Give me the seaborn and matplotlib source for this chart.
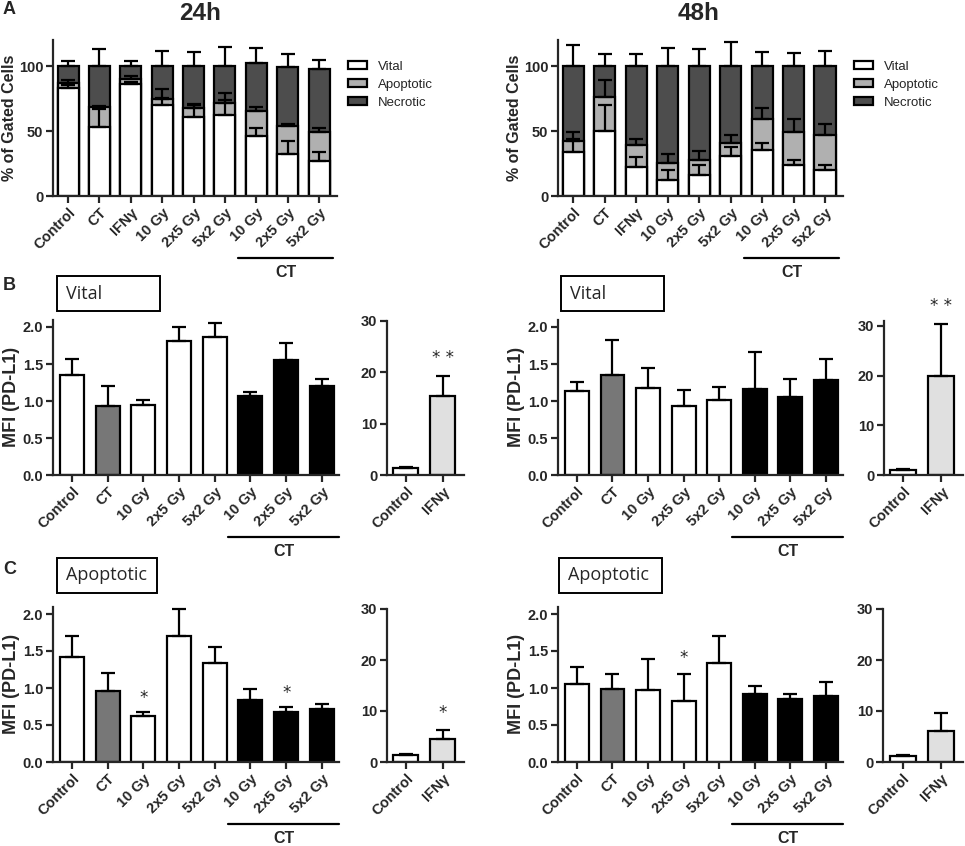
import numpy as np
import pandas as pd
import seaborn as sns
import matplotlib.pyplot as plt
from matplotlib.patches import Patch, Rectangle
import matplotlib.transforms as mtransforms

# ---- data ----
groups_a = ['Control', 'CT', 'IFNγ', '10 Gy', '2x5 Gy', '5x2 Gy', 'CT 10 Gy', 'CT 2x5 Gy', 'CT 5x2 Gy']
labels_a = ['Control', 'CT', 'IFNγ', '10 Gy', '2x5 Gy', '5x2 Gy', '10 Gy', '2x5 Gy', '5x2 Gy']

vital_24 = [83, 53, 86, 70, 61, 62.5, 46, 32.5, 27]
vital_24_err = [2, 14, 2, 12, 10, 17, 6, 10, 6.5]
apop_24 = [4, 15.5, 4, 4.5, 7, 9, 19, 21.5, 22]
apop_24_err = [2, 0.5, 2, 1, 2, 2, 3.5, 1.5, 3.5]
nec_24 = [13, 31.5, 10, 25.5, 32, 28.5, 37.5, 45, 49]
nec_24_err = [4, 13, 4, 11.5, 11, 15, 11, 10.5, 7]

vital_48 = [34, 50, 22, 12, 16, 30.5, 35, 24, 20]
vital_48_err = [10, 20, 8, 8, 8, 7, 6, 3.5, 4]
apop_48 = [8, 26, 17, 13, 12, 10, 24, 25, 27]
apop_48_err = [7, 13, 5, 7.5, 6.5, 6.5, 9, 10, 8]
nec_48 = [58, 24, 61, 75, 72, 59.5, 41, 51, 53]
nec_48_err = [16, 9.5, 9, 14, 13, 18.5, 11, 10, 11.5]

groups_b = ['Control', 'CT', '10 Gy', '2x5 Gy', '5x2 Gy', 'CT 10 Gy', 'CT 2x5 Gy', 'CT 5x2 Gy']
labels_b = ['Control', 'CT', '10 Gy', '2x5 Gy', '5x2 Gy', '10 Gy', '2x5 Gy', '5x2 Gy']
colors_b = ['white', '#777777', 'white', 'white', 'white', 'black', 'black', 'black']

mfi_vital_24 = [1.35, 0.93, 0.95, 1.81, 1.86, 1.07, 1.56, 1.20]
mfi_vital_24_err = [0.22, 0.27, 0.07, 0.19, 0.19, 0.05, 0.23, 0.10]
mfi_vital_48 = [1.13, 1.35, 1.17, 0.93, 1.02, 1.16, 1.06, 1.29]
mfi_vital_48_err = [0.12, 0.48, 0.27, 0.22, 0.17, 0.50, 0.24, 0.28]
mfi_apop_24 = [1.42, 0.96, 0.62, 1.70, 1.34, 0.84, 0.67, 0.71]
mfi_apop_24_err = [0.28, 0.24, 0.05, 0.37, 0.21, 0.15, 0.07, 0.08]
mfi_apop_48 = [1.05, 0.98, 0.97, 0.82, 1.34, 0.92, 0.85, 0.89]
mfi_apop_48_err = [0.24, 0.21, 0.42, 0.37, 0.36, 0.11, 0.07, 0.19]

groups_ifn = ['Control', 'IFNγ']
colors_ifn = ['white', '#e0e0e0']
ifn_vital_24 = [1.3, 15.4]
ifn_vital_24_err = [0.3, 3.9]
ifn_vital_48 = [1.0, 19.9]
ifn_vital_48_err = [0.2, 10.5]
ifn_apop_24 = [1.3, 4.6]
ifn_apop_24_err = [0.35, 1.6]
ifn_apop_48 = [1.1, 6.0]
ifn_apop_48_err = [0.2, 3.7]

# ---- style ----
sns.set_style('ticks')
plt.rcParams['font.family'] = ['Liberation Sans', 'DejaVu Sans']
plt.rcParams['font.weight'] = 'bold'
LW = 1.6

W, H = 965, 846
fig = plt.figure(figsize=(W / 100, H / 100), dpi=100)


def add_ax(x0, x1, ytop, ybot):
    return fig.add_axes([x0 / W, 1 - ybot / H, (x1 - x0) / W, (ybot - ytop) / H])


def style_ax(ax, labels, ylim, yticks, fmt, xlim):
    ax.set_xlim(*xlim)
    ax.set_ylim(*ylim)
    ax.set_yticks(yticks)
    ax.set_yticklabels([fmt.format(t) for t in yticks], fontsize=10.5, fontweight='bold')
    ax.set_xticks(range(len(labels)))
    ax.set_xticklabels(labels, rotation=45, ha='right', rotation_mode='anchor',
                       fontsize=10.5, fontweight='bold')
    ax.set_xlabel('')
    ax.set_ylabel('')
    for s in ['top', 'right']:
        ax.spines[s].set_visible(False)
    for s in ['left', 'bottom']:
        ax.spines[s].set_linewidth(LW)
    ax.tick_params(width=LW, length=5, direction='out', pad=2)


def up_err(ax, tops, errs):
    x = np.arange(len(tops))
    ax.errorbar(x, tops, yerr=[np.zeros(len(errs)), errs], fmt='none', ecolor='black',
                elinewidth=LW, capsize=5, capthick=LW, zorder=5)


def ct_bracket(ax, x0, x1, yline, ytext):
    tr = mtransforms.blended_transform_factory(ax.transData, ax.transAxes)
    ax.plot([x0, x1], [yline, yline], color='black', lw=LW, transform=tr, clip_on=False)
    ax.text((x0 + x1) / 2, ytext, 'CT', transform=tr, ha='center', va='center',
            fontsize=11.5, fontweight='bold')


def stacked(ax, vital, vital_err, apop, apop_err, nec, nec_err):
    v = np.array(vital)
    a = v + np.array(apop)
    n = a + np.array(nec)
    for tops, col in [(n, '#4d4d4d'), (a, '#b0b0b0'), (v, 'white')]:
        sns.barplot(x=groups_a, y=tops, order=groups_a, color=col, saturation=1,
                    edgecolor='black', linewidth=LW, width=0.67, errorbar=None, ax=ax)
    up_err(ax, v, vital_err)
    up_err(ax, a, apop_err)
    up_err(ax, n, nec_err)
    style_ax(ax, labels_a, (0, 120), [0, 50, 100], '{:d}', (-0.48, 8.57))
    ax.set_ylabel('% of Gated Cells', fontsize=11.5, fontweight='bold')
    ax.yaxis.set_label_coords(-0.127, 0.5)
    handles = [Patch(facecolor=c, edgecolor='black', linewidth=LW, label=l)
               for c, l in [('white', 'Vital'), ('#b0b0b0', 'Apoptotic'), ('#4d4d4d', 'Necrotic')]]
    leg = ax.legend(handles=handles, loc='upper left', bbox_to_anchor=(1.02, 0.9),
                    frameon=False, fontsize=9.5, handlelength=1.45, handleheight=0.6,
                    labelspacing=0.45, borderaxespad=0, handletextpad=0.8)
    for t in leg.get_texts():
        t.set_fontweight('normal')
    ct_bracket(ax, 5.43, 8.45, -0.4, -0.49)


def mfi(ax, vals, errs):
    sns.barplot(x=groups_b, y=vals, order=groups_b, hue=groups_b, hue_order=groups_b,
                palette=colors_b, saturation=1, legend=False,
                edgecolor='black', linewidth=LW, width=0.67, errorbar=None, ax=ax)
    up_err(ax, vals, errs)
    style_ax(ax, labels_b, (0, 2.1), [0, 0.5, 1.0, 1.5, 2.0], '{:.1f}', (-0.53, 7.48))
    ax.set_ylabel('MFI (PD-L1)', fontsize=13, fontweight='bold')
    ax.yaxis.set_label_coords(-0.115, 0.5)
    ct_bracket(ax, 4.37, 7.48, -0.4, -0.495)


def ifn(ax, vals, errs, ytop):
    sns.barplot(x=groups_ifn, y=vals, order=groups_ifn, hue=groups_ifn, hue_order=groups_ifn,
                palette=colors_ifn, saturation=1, legend=False,
                edgecolor='black', linewidth=LW, width=0.68, errorbar=None, ax=ax)
    up_err(ax, vals, errs)
    style_ax(ax, groups_ifn, (0, ytop), [0, 10, 20, 30], '{:d}', (-0.51, 1.57))


def star(ax, x, y, s='*'):
    ax.text(x, y, s, ha='center', va='center', fontsize=12, fontweight='normal',
            family='DejaVu Sans', clip_on=False)


def label_box(x0, x1, ytop, ybot, text):
    fig.patches.append(Rectangle((x0 / W, 1 - ybot / H), (x1 - x0) / W, (ybot - ytop) / H,
                                 transform=fig.transFigure, facecolor='white',
                                 edgecolor='black', linewidth=1.4))
    fig.text((x0 + 9) / W, 1 - (ytop + ybot) / 2 / H, text, ha='left', va='center',
             fontsize=13, fontweight='normal', family='Open Sans')


# ---- panel A ----
axA1 = add_ax(53, 337, 40, 196)
stacked(axA1, vital_24, vital_24_err, apop_24, apop_24_err, nec_24, nec_24_err)
axA2 = add_ax(558, 843, 40, 196)
stacked(axA2, vital_48, vital_48_err, apop_48, apop_48_err, nec_48, nec_48_err)

fig.text(200 / W, 1 - 14 / H, '24h', ha='center', va='center', fontsize=17.5, fontweight='bold')
fig.text(699 / W, 1 - 14 / H, '48h', ha='center', va='center', fontsize=17.5, fontweight='bold')

# ---- panel B ----
axB1 = add_ax(53, 339, 319.6, 475)
mfi(axB1, mfi_vital_24, mfi_vital_24_err)
axB2 = add_ax(387, 464, 321, 475)
ifn(axB2, ifn_vital_24, ifn_vital_24_err, 30)
star(axB2, 1, 22.8, '* *')
axB3 = add_ax(558, 843, 319.6, 475)
mfi(axB3, mfi_vital_48, mfi_vital_48_err)
axB4 = add_ax(884, 963, 321, 475)
ifn(axB4, ifn_vital_48, ifn_vital_48_err, 31)
star(axB4, 1, 34.0, '* *')

# ---- panel C ----
axC1 = add_ax(53, 339, 606.6, 762)
mfi(axC1, mfi_apop_24, mfi_apop_24_err)
star(axC1, 2, 0.86)
star(axC1, 6, 0.93)
axC2 = add_ax(387, 464, 609, 762)
ifn(axC2, ifn_apop_24, ifn_apop_24_err, 30)
star(axC2, 1, 9.6)
axC3 = add_ax(558, 843, 606.6, 762)
mfi(axC3, mfi_apop_48, mfi_apop_48_err)
star(axC3, 3, 1.41)
axC4 = add_ax(883, 963, 609, 762)
ifn(axC4, ifn_apop_48, ifn_apop_48_err, 30)

# ---- boxes and panel letters ----
label_box(57, 160, 276, 311, 'Vital')
label_box(561, 664, 276, 311, 'Vital')
label_box(57, 157, 558, 593, 'Apoptotic')
label_box(559, 662, 558, 593, 'Apoptotic')

for letter, y in [('A', 10), ('B', 285), ('C', 570)]:
    fig.text(3 / W, 1 - y / H, letter, ha='left', va='center', fontsize=13, fontweight='bold')

fig.savefig('out.png', dpi=100)
